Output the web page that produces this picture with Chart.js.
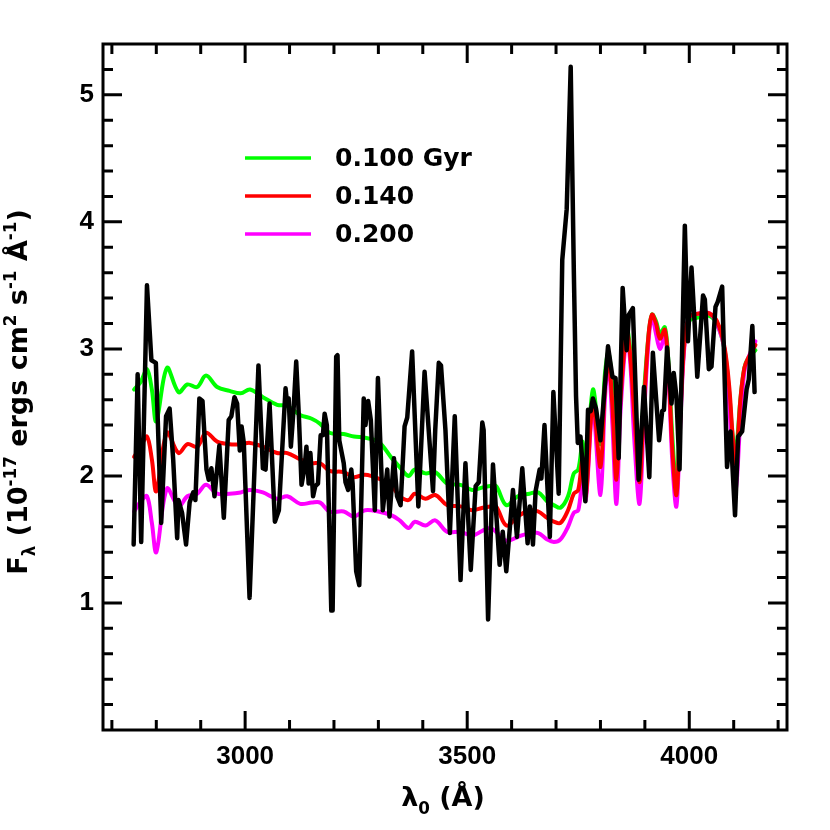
<!DOCTYPE html>
<html lang="en">
<head>
<meta charset="UTF-8" />
<title>Spectrum with model fits</title>
<script src="https://cdn.jsdelivr.net/npm/chart.js"></script>
<style>
  html, body { margin: 0; padding: 0; background: #fff; }
  #wrap { width: 830px; height: 830px; position: relative; }
</style>
</head>
<body>
<div id="wrap"><canvas id="chart" width="830" height="830"></canvas></div>
<script>
// observed spectrum (black)
const obsWave = [2749, 2758, 2766, 2779, 2789, 2799, 2811, 2822, 2830, 2838, 2847, 2850, 2858, 2867, 2875, 2883, 2888, 2897, 2904, 2913,
  2918, 2924, 2931, 2942, 2952, 2963, 2969, 2976, 2982, 2988, 2992, 2997, 3010, 3030, 3040, 3046, 3055, 3067, 3076, 3091,
  3094, 3098, 3103, 3109, 3115, 3121, 3127, 3134, 3138, 3143, 3147, 3153, 3158, 3164, 3170, 3175, 3179, 3184, 3194, 3197,
  3205, 3208, 3212, 3222, 3226, 3232, 3239, 3242, 3250, 3257, 3267, 3271, 3277, 3283, 3292, 3299, 3310, 3320, 3325, 3335,
  3342, 3350, 3359, 3365, 3376, 3390, 3404, 3423, 3428, 3436, 3441, 3451, 3461, 3472, 3485, 3496, 3508, 3519, 3526, 3534,
  3537, 3547, 3558, 3573, 3580, 3588, 3603, 3612, 3624, 3636, 3641, 3648, 3654, 3663, 3667, 3674, 3686, 3694, 3706, 3714,
  3724, 3733, 3740, 3745, 3749, 3755, 3766, 3772, 3778, 3783, 3790, 3800, 3817, 3827, 3834, 3841, 3850, 3859, 3864, 3873,
  3886, 3898, 3910, 3918, 3932, 3939, 3943, 3950, 3960, 3965, 3971, 3978, 3990, 3997, 4005, 4012, 4018, 4031, 4035, 4044,
  4050, 4059, 4064, 4074, 4085, 4093, 4103, 4110, 4119, 4129, 4134, 4142, 4147];
const obsFlux = [1.46, 2.80, 1.48, 3.50, 2.91, 2.89, 1.63, 2.47, 2.53, 2.13, 1.51, 1.81, 1.71, 1.46, 1.79, 1.87, 1.81, 2.61, 2.59, 2.05,
  1.97, 2.06, 1.84, 2.24, 1.67, 2.44, 2.47, 2.62, 2.57, 2.20, 2.39, 2.26, 1.04, 2.87, 2.06, 2.05, 2.57, 1.64, 1.73, 2.69,
  2.59, 2.61, 2.23, 2.52, 2.90, 2.47, 1.93, 2.07, 2.23, 1.94, 2.18, 1.84, 1.92, 1.94, 2.32, 2.32, 2.49, 2.40, 0.94, 0.94,
  2.94, 2.95, 2.28, 2.10, 1.95, 1.89, 2.05, 1.94, 1.25, 1.14, 2.61, 2.40, 2.59, 2.44, 1.73, 2.77, 1.73, 2.05, 1.68, 2.14,
  1.84, 1.77, 2.39, 2.46, 2.98, 1.76, 2.82, 1.88, 2.36, 2.89, 2.87, 2.36, 1.55, 2.47, 1.18, 2.10, 1.26, 1.92, 1.95, 2.42,
  2.36, 0.87, 2.09, 1.30, 1.56, 1.25, 1.89, 1.52, 2.06, 1.47, 1.76, 1.46, 1.88, 2.05, 1.98, 2.40, 1.52, 2.66, 1.86, 3.70,
  4.10, 5.22, 3.62, 2.63, 2.26, 2.31, 1.80, 2.52, 2.51, 2.61, 2.53, 2.28, 3.02, 2.78, 2.77, 2.14, 3.48, 2.99, 3.27, 3.32,
  1.97, 2.70, 1.99, 2.97, 2.28, 2.51, 2.52, 3.01, 2.57, 2.81, 2.63, 2.05, 3.97, 3.06, 3.64, 3.20, 2.78, 3.42, 3.39, 2.84,
  2.86, 3.33, 3.37, 3.49, 2.07, 2.35, 1.69, 2.31, 2.35, 2.68, 2.76, 3.18, 2.66];

// model spectra on one wavelength grid
const modelWave = [2750, 2765, 2779, 2790, 2800, 2824, 2850, 2870, 2892, 2912, 2937, 2965, 2990, 3011, 3040, 3072, 3095, 3124, 3150, 3169,
  3190, 3222, 3245, 3270, 3300, 3330, 3348, 3368, 3382, 3406, 3428, 3455, 3485, 3511, 3535, 3552, 3565, 3588, 3614, 3640,
  3660, 3680, 3695, 3710, 3727, 3740, 3750, 3760, 3767, 3783, 3800, 3810, 3818, 3827, 3836, 3845, 3859, 3867, 3876, 3888,
  3897, 3908, 3916, 3925, 3934, 3945, 3953, 3962, 3971, 3979, 3989, 4000, 4025, 4045, 4062, 4079, 4090, 4098, 4105, 4115,
  4124, 4133, 4149];
const flux100 = [2.68, 2.74, 2.84, 2.68, 2.43, 2.85, 2.66, 2.72, 2.70, 2.79, 2.70, 2.67, 2.65, 2.68, 2.62, 2.56, 2.55, 2.48, 2.45, 2.41,
  2.34, 2.33, 2.31, 2.30, 2.27, 2.14, 2.07, 2.00, 2.05, 2.02, 2.03, 1.94, 1.93, 1.89, 1.91, 1.92, 1.92, 1.77, 1.84, 1.86,
  1.87, 1.80, 1.77, 1.75, 1.84, 2.02, 2.05, 2.27, 2.00, 2.68, 2.25, 2.80, 2.97, 2.70, 2.15, 2.70, 3.16, 3.00, 2.60, 2.12,
  2.60, 3.10, 3.27, 3.22, 3.12, 3.17, 2.90, 2.30, 1.92, 2.45, 3.05, 3.22, 3.25, 3.26, 3.20, 3.00, 2.65, 2.30, 2.20, 2.60,
  2.85, 2.93, 2.99];
const flux140 = [2.15, 2.23, 2.31, 2.13, 1.88, 2.34, 2.18, 2.25, 2.23, 2.34, 2.27, 2.25, 2.25, 2.26, 2.23, 2.18, 2.18, 2.13, 2.10, 2.10,
  2.04, 2.03, 1.99, 2.01, 1.98, 1.92, 1.84, 1.81, 1.86, 1.82, 1.85, 1.77, 1.76, 1.73, 1.75, 1.76, 1.76, 1.61, 1.68, 1.73,
  1.72, 1.67, 1.64, 1.63, 1.73, 1.86, 1.89, 2.14, 1.84, 2.57, 2.07, 2.70, 2.92, 2.55, 1.97, 2.60, 3.13, 2.95, 2.50, 1.95,
  2.50, 3.10, 3.27, 3.20, 3.08, 3.15, 2.85, 2.20, 1.85, 2.40, 3.05, 3.25, 3.28, 3.28, 3.22, 3.02, 2.70, 2.30, 2.10, 2.60,
  2.85, 2.93, 3.03];
const flux200 = [1.72, 1.80, 1.84, 1.63, 1.40, 1.90, 1.76, 1.84, 1.86, 1.93, 1.86, 1.86, 1.87, 1.89, 1.87, 1.82, 1.84, 1.78, 1.79, 1.79,
  1.72, 1.72, 1.68, 1.73, 1.72, 1.69, 1.65, 1.59, 1.64, 1.61, 1.65, 1.56, 1.56, 1.53, 1.57, 1.59, 1.56, 1.49, 1.52, 1.55,
  1.55, 1.50, 1.48, 1.50, 1.60, 1.71, 1.73, 1.97, 1.81, 2.52, 1.85, 2.60, 2.90, 2.40, 1.78, 2.50, 3.10, 2.90, 2.30, 1.78,
  2.40, 3.05, 3.25, 3.12, 3.00, 3.10, 2.80, 2.10, 1.76, 2.35, 3.02, 3.25, 3.28, 3.28, 3.20, 3.00, 2.55, 2.10, 1.90, 2.45,
  2.82, 2.93, 3.06];

const xTickLabels = [3000, 3500, 4000];
const yTickLabels = [1, 2, 3, 4, 5];
const legendNames = ['0.100 Gyr', '0.140', '0.200'];

function pairs(xs, ys) {
  return xs.map((x, i) => ({ x: x, y: ys[i] }));
}

const tickFont = { family: 'Liberation Sans', size: 26, weight: 'bold' };

// frame, inside ticks, axis titles and legend
const decorations = {
  id: 'decorations',
  afterDraw(chart) {
    const ctx = chart.ctx;
    const a = chart.chartArea;
    const xs = chart.scales.x, ys = chart.scales.y;
    ctx.save();
    ctx.strokeStyle = '#000';
    ctx.lineWidth = 3;
    ctx.lineCap = 'butt';
    ctx.strokeRect(a.left, a.top, a.right - a.left, a.bottom - a.top);

    ctx.beginPath();
    for (let v = 2700; v <= 4200; v += 100) {
      const px = xs.getPixelForValue(v);
      const len = v % 500 === 0 ? 19 : 10;
      ctx.moveTo(px, a.bottom); ctx.lineTo(px, a.bottom - len);
      ctx.moveTo(px, a.top); ctx.lineTo(px, a.top + len);
    }
    for (let k = 1; k <= 26; k++) {
      const v = k * 0.2;
      const py = ys.getPixelForValue(v);
      const len = k % 5 === 0 ? 19 : 10;
      ctx.moveTo(a.left, py); ctx.lineTo(a.left + len, py);
      ctx.moveTo(a.right, py); ctx.lineTo(a.right - len, py);
    }
    ctx.stroke();

    // legend
    const colors = ['#00ff00', '#ff0000', '#ff00ff'];
    ctx.font = 'bold 25px "DejaVu Sans"';
    ctx.textBaseline = 'middle';
    ctx.textAlign = 'left';
    legendNames.forEach((name, i) => {
      const y = 158 + i * 38;
      ctx.strokeStyle = colors[i];
      ctx.lineWidth = 3.5;
      ctx.beginPath();
      ctx.moveTo(245, y); ctx.lineTo(311, y);
      ctx.stroke();
      ctx.fillStyle = '#000';
      ctx.fillText(name, 335, y + 1);
    });

    // axis titles with sub/superscripts
    function rich(parts, size) {
      let w = 0;
      parts.forEach(p => {
        const s = p[1] ? size * 0.62 : size;
        ctx.font = 'bold ' + s + 'px "DejaVu Sans"';
        p.w = ctx.measureText(p[0]).width;
        w += p.w;
      });
      let x = -w / 2;
      ctx.textBaseline = 'alphabetic';
      parts.forEach(p => {
        const s = p[1] ? size * 0.62 : size;
        ctx.font = 'bold ' + s + 'px "DejaVu Sans"';
        const dy = p[1] === 'sub' ? size * 0.28 : p[1] === 'sup' ? -size * 0.42 : 0;
        ctx.fillText(p[0], x, dy);
        x += p.w;
      });
    }
    ctx.fillStyle = '#000';
    ctx.save();
    ctx.translate(443, 806);
    rich([['λ'], ['0', 'sub'], [' (Å)']], 27);
    ctx.restore();

    ctx.save();
    ctx.translate(27, 392);
    ctx.rotate(-Math.PI / 2);
    rich([['F'], ['λ', 'sub'], [' (10'], ['-17', 'sup'], [' ergs cm'], ['2', 'sup'], [' s'], ['-1', 'sup'], [' Å'], ['-1', 'sup'], [')']], 27);
    ctx.restore();

    ctx.restore();
  }
};

new Chart(document.getElementById('chart').getContext('2d'), {
  type: 'line',
  data: {
    datasets: [
      { label: 'observed', data: pairs(obsWave, obsFlux), borderColor: '#000', borderWidth: 4.5, tension: 0 },
      { label: '0.140', data: pairs(modelWave, flux140), borderColor: '#ff0000', borderWidth: 4, tension: 0.35 },
      { label: '0.200', data: pairs(modelWave, flux200), borderColor: '#ff00ff', borderWidth: 4, tension: 0.35 },
      { label: '0.100 Gyr', data: pairs(modelWave, flux100), borderColor: '#00ff00', borderWidth: 4, tension: 0.35 }
    ]
  },
  options: {
    responsive: false,
    animation: false,
    devicePixelRatio: 1,
    elements: { point: { radius: 0 }, line: { borderJoinStyle: 'round', borderCapStyle: 'round' } },
    layout: { padding: { left: 0, top: 44, right: 43, bottom: 0 } },
    plugins: { legend: { display: false }, tooltip: { enabled: false } },
    scales: {
      x: {
        type: 'linear', min: 2680, max: 4220,
        afterBuildTicks: s => { s.ticks = xTickLabels.map(v => ({ value: v })); },
        afterFit: s => { s.height = 100; },
        grid: { display: false, drawTicks: false },
        border: { display: false },
        ticks: { color: '#000', font: tickFont, padding: 11, maxRotation: 0, callback: v => String(v) }
      },
      y: {
        type: 'linear', min: 0, max: 5.4,
        afterBuildTicks: s => { s.ticks = yTickLabels.map(v => ({ value: v })); },
        afterFit: s => { s.width = 103; },
        grid: { display: false, drawTicks: false },
        border: { display: false },
        ticks: { color: '#000', font: tickFont, padding: 9, callback: v => String(v) }
      }
    }
  },
  plugins: [decorations]
});
</script>
</body>
</html>
